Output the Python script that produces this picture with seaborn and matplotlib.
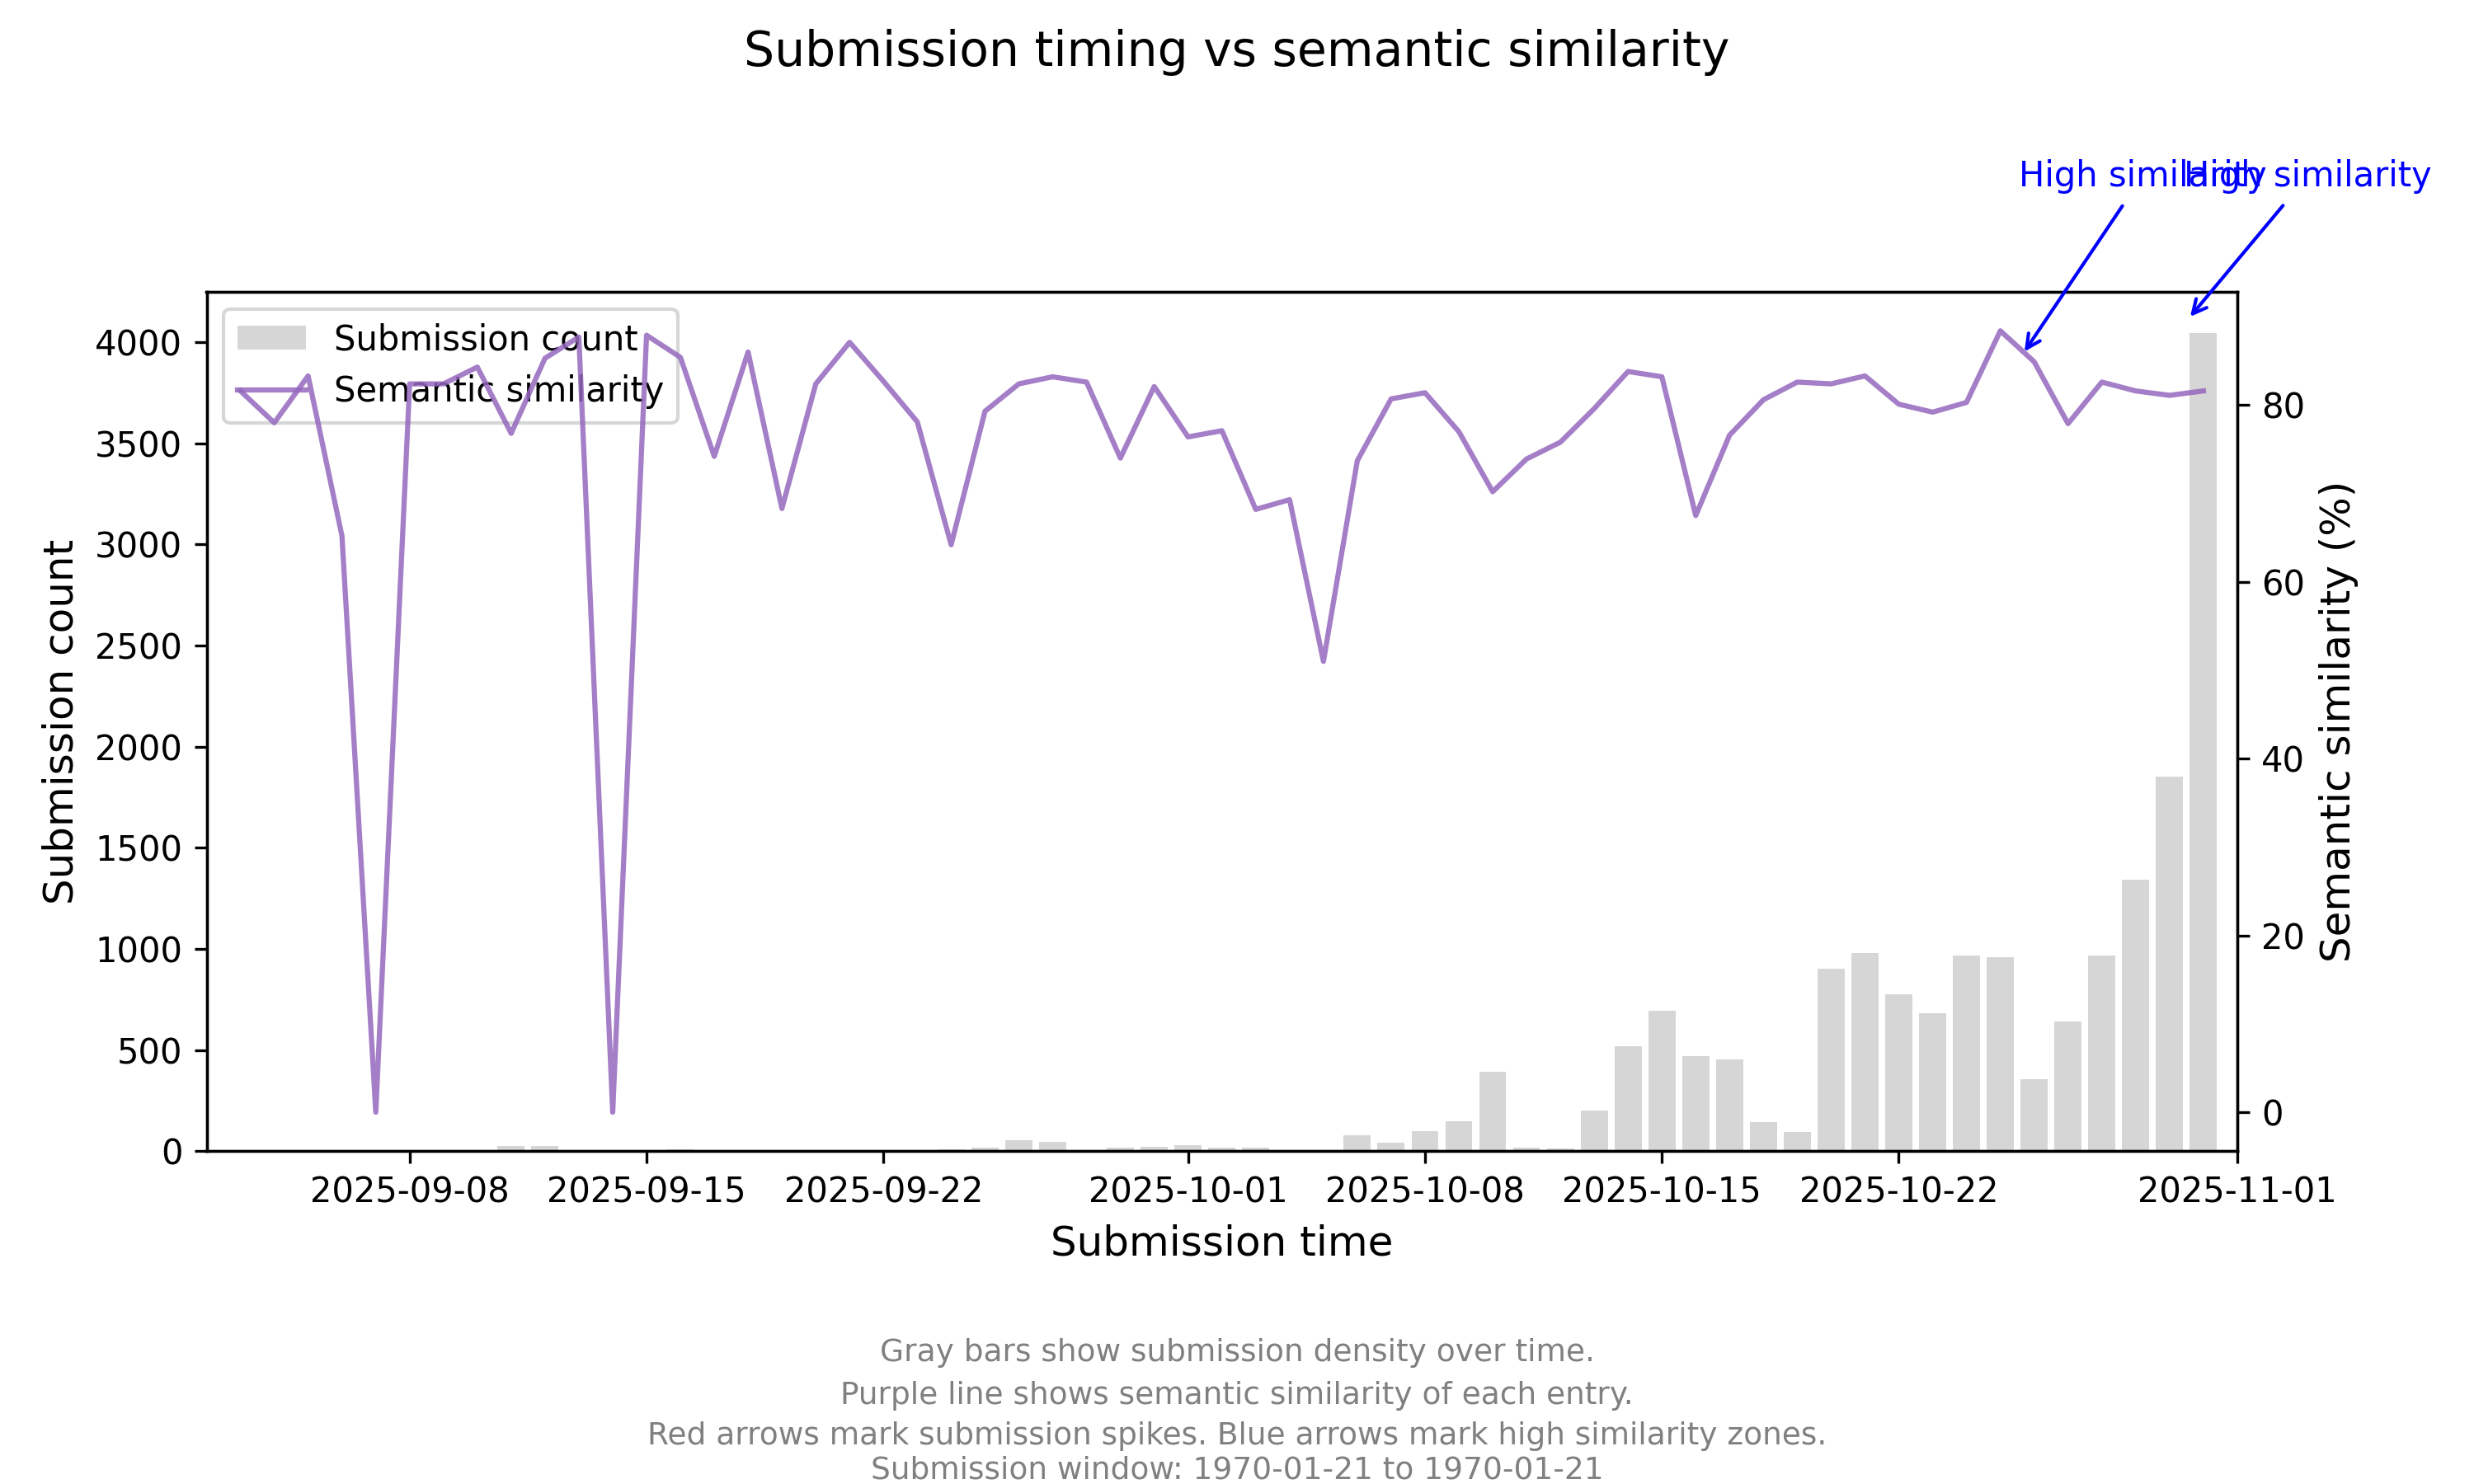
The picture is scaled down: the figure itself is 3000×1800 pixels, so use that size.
import numpy as np
import pandas as pd
import matplotlib
matplotlib.use("Agg")
import matplotlib.pyplot as plt
import matplotlib.dates as mdates
import seaborn as sns

start_date = "2025-09-03"
end_date = "2025-10-31"

submission_counts = [
    0, 0, 0, 0, 0, 0, 0, 3, 28, 28,            # 09-03 .. 09-12
    0, 0, 0, 11, 0, 0, 3, 0, 0, 7,            # 09-13 .. 09-22
    3, 11, 19, 56, 48, 7, 19, 23,              # 09-23 .. 09-30
    31, 19, 19, 2, 3, 80, 43, 100, 150, 395,   # 10-01 .. 10-10
    19, 15, 203, 518, 695, 472, 455, 143, 94, 904,   # 10-11 .. 10-20
    981, 775, 681, 967, 958, 358, 643, 969, 1341, 1853, 4046,  # 10-21 .. 10-31
]

similarity_pct = [
    81.6, 78.0, 83.3, 65.2, 0.0, 82.4, 82.4, 84.3, 76.8, 85.3,   # 09-03 .. 09-12
    87.7, 0.0, 87.9, 85.4, 74.2, 86.0, 68.3, 82.4, 87.1, 82.7,   # 09-13 .. 09-22
    78.1, 64.2, 79.3, 82.4, 83.2, 82.6, 74.0, 82.1,               # 09-23 .. 09-30
    76.4, 77.1, 68.2, 69.3, 51.0, 73.7, 80.7, 81.4, 77.0, 70.2,   # 10-01 .. 10-10
    73.9, 75.8, 79.6, 83.8, 83.2, 67.5, 76.6, 80.6, 82.6, 82.4,   # 10-11 .. 10-20
    83.3, 80.1, 79.2, 80.3, 88.4, 84.9, 77.9, 82.6, 81.6, 81.1, 81.6,  # 10-21 .. 10-31
]

# high-similarity annotation targets (time, similarity %)
high_sim_times = ["2025-10-25 14:24", "2025-10-30 11:30"]
high_sim_values = [85.4, 89.4]

footer_lines = [
    "Gray bars show submission density over time.",
    "Purple line shows semantic similarity of each entry.",
    "Red arrows mark submission spikes. Blue arrows mark high similarity zones.\n"
    "Submission window: 1970-01-21 to 1970-01-21",
]

dates = pd.date_range(start_date, end_date, freq="D")
df = pd.DataFrame({"date": dates, "count": submission_counts, "similarity": similarity_pct})

fig = plt.figure(figsize=(10, 6), dpi=300)
ax = fig.add_axes([0.0835, 0.2242, 0.8208, 0.5792])

bars = ax.bar(df["date"], df["count"], width=0.8, color="#d6d6d6", label="Submission count")
ax.set_ylabel("Submission count", fontsize=12)
ax.set_xlabel("Submission time", fontsize=12)

ax2 = ax.twinx()
sns.lineplot(data=df, x="date", y="similarity", ax=ax2, color="#9467bd", alpha=0.85,
             linewidth=1.5, legend=False)
line = ax2.lines[0]
line.set_label("Semantic similarity")
ax2.set_ylabel("Semantic similarity (%)", fontsize=12)
ax2.set_xlabel("")

ax.set_xlim(pd.Timestamp("2025-09-02"), pd.Timestamp("2025-11-01"))
locator = mdates.AutoDateLocator()
ax.xaxis.set_major_locator(locator)
ax.xaxis.set_major_formatter(mdates.DateFormatter("%Y-%m-%d"))

ax.legend([bars, line], ["Submission count", "Semantic similarity"], loc="upper left", fontsize=10)

for t, v in zip(high_sim_times, high_sim_values):
    ts = pd.Timestamp(t)
    ax2.annotate("High similarity", xy=(ts, v), xytext=(ts + pd.Timedelta(days=3.6), 103.95),
                 ha="center", va="bottom", color="blue", fontsize=10,
                 arrowprops=dict(arrowstyle="->", color="blue", lw=1))

fig.suptitle("Submission timing vs semantic similarity", fontsize=14, y=0.965, va="center")

fig.text(0.5, 0.0882, footer_lines[0], ha="center", va="center", fontsize=9, color="gray")
fig.text(0.5, 0.0596, footer_lines[1], ha="center", va="center", fontsize=9, color="gray")
fig.text(0.5, 0.0209, footer_lines[2], ha="center", va="center", fontsize=9, color="gray")

fig.savefig("out.png", dpi=300)
